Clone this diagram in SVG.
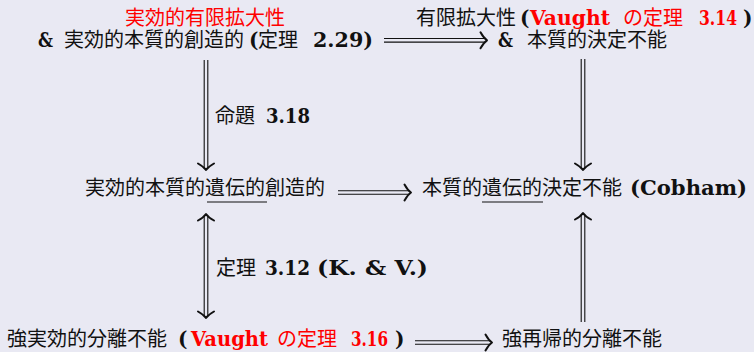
<svg xmlns="http://www.w3.org/2000/svg" width="754" height="352" viewBox="0 0 754 352">
<style>
.j{font-family:"Noto Sans CJK JP","Noto Sans CJK SC",sans-serif;font-size:20px;fill:#111}
.l{font-family:"DejaVu Serif","Liberation Serif",serif;font-weight:bold;font-size:20px;fill:#111}
.r{fill:#f00}
.sh{stroke:#111;stroke-width:1.1;fill:none}
.hd{stroke:#111;stroke-width:2;fill:none;stroke-linecap:round;stroke-linejoin:round}
.ul{stroke:#111;stroke-width:1.1}
</style>
<defs>
<path id="h" class="hd" d="M-6.5,-8 C-4,-3.5 -1.5,-1 0,0 C-1.5,1 -4,3.5 -6.5,8"/>
</defs>
<rect width="754" height="352" fill="#e9e9f3"/>

<g id="connectors">
  <g id="a-b">
    <path class="sh" d="M384,38.5H485M384,42.1H485"/>
    <use href="#h" x="487" y="40.3"/>
  </g>
  <g id="a-c">
    <path class="sh" d="M204.2,60V168M207.8,60V168"/>
    <use href="#h" transform="translate(206,170) rotate(90)"/>
  </g>
  <g id="b-d">
    <path class="sh" d="M581.2,59V168M584.8,59V168"/>
    <use href="#h" transform="translate(583,170) rotate(90)"/>
  </g>
  <g id="c-d">
    <path class="sh" d="M338,190.7H409M338,194.3H409"/>
    <use href="#h" x="411" y="192.5"/>
  </g>
  <g id="c-e">
    <path class="sh" d="M204.2,216V316M207.8,216V316"/>
    <use href="#h" transform="translate(206,214) rotate(-90)"/>
    <use href="#h" transform="translate(206,318) rotate(90)"/>
  </g>
  <g id="f-d">
    <path class="sh" d="M581.2,215V322M584.8,215V322"/>
    <use href="#h" transform="translate(583,213) rotate(-90)"/>
  </g>
  <g id="e-f">
    <path class="sh" d="M415,340.7H490M415,344.3H490"/>
    <use href="#h" x="492" y="342.5"/>
  </g>
  <text class="j" x="215" y="123">命題</text>
  <text class="l" x="266" y="123" textLength="44" lengthAdjust="spacingAndGlyphs">3.18</text>
  <text class="j" x="216" y="275">定理</text>
  <text class="l" x="265" y="275" textLength="45" lengthAdjust="spacingAndGlyphs">3.12</text>
  <text class="l" x="317" y="275" textLength="111" lengthAdjust="spacingAndGlyphs">(K. &amp; V.)</text>
</g>

<g id="node-a">
  <text class="j r" x="125" y="25">実効的有限拡大性</text>
  <text class="l" x="38" y="47" textLength="15" lengthAdjust="spacingAndGlyphs">&amp;</text>
  <text class="j" x="64" y="47">実効的本質的創造的</text>
  <text class="l" x="249" y="47">(</text>
  <text class="j" x="258" y="47">定理</text>
  <text class="l" x="313" y="47" textLength="60" lengthAdjust="spacingAndGlyphs">2.29)</text>
</g>

<g id="node-b">
  <text class="j" x="416" y="25">有限拡大性</text>
  <text class="l" x="520" y="25">(</text>
  <text class="l r" x="530" y="25" textLength="80" lengthAdjust="spacingAndGlyphs">Vaught</text>
  <text class="j r" x="623" y="25">の定理</text>
  <text class="l r" x="699" y="25" textLength="38" lengthAdjust="spacingAndGlyphs">3.14</text>
  <text class="l" x="743" y="25">)</text>
  <text class="l" x="498" y="47" textLength="15" lengthAdjust="spacingAndGlyphs">&amp;</text>
  <text class="j" x="527" y="47">本質的決定不能</text>
</g>

<g id="node-c">
  <text class="j" x="85" y="195">実効的本質的遺伝的創造的</text>
  <line class="ul" x1="207" y1="202" x2="267" y2="202"/>
</g>

<g id="node-d">
  <text class="j" x="422" y="195">本質的遺伝的決定不能</text>
  <text class="l" x="630" y="195" textLength="117" lengthAdjust="spacingAndGlyphs">(Cobham)</text>
  <line class="ul" x1="482" y1="202" x2="543" y2="202"/>
</g>

<g id="node-e">
  <text class="j" x="7" y="346">強実効的分離不能</text>
  <text class="l" x="178" y="346">(</text>
  <text class="l r" x="191" y="346" textLength="77" lengthAdjust="spacingAndGlyphs">Vaught</text>
  <text class="j r" x="277" y="346">の定理</text>
  <text class="l r" x="351" y="346" textLength="37" lengthAdjust="spacingAndGlyphs">3.16</text>
  <text class="l" x="395" y="346">)</text>
</g>

<g id="node-f">
  <text class="j" x="502" y="346">強再帰的分離不能</text>
</g>
</svg>
